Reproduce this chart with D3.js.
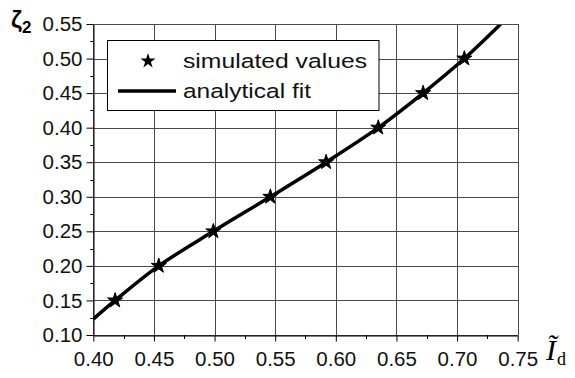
<!DOCTYPE html>
<html>
<head>
<meta charset="utf-8">
<script src="https://cdn.jsdelivr.net/npm/d3@7"></script>
<style>
  html, body { margin: 0; padding: 0; background: #fff; }
  svg { display: block; }
</style>
</head>
<body>
<svg id="chart" width="575" height="378"></svg>
<script>
// Simulated points (normalised current vs. zeta_2)
const simX = [0.418, 0.454, 0.499, 0.546, 0.592, 0.635, 0.672, 0.706];
const simY = [0.15, 0.20, 0.25, 0.30, 0.35, 0.40, 0.45, 0.50];

// Analytical fit curve
const fitX = [0.400, 0.418, 0.454, 0.499, 0.546, 0.592, 0.635, 0.672, 0.706, 0.736];
const fitY = [0.123, 0.150, 0.200, 0.250, 0.300, 0.350, 0.400, 0.450, 0.500, 0.550];

// Tick labels
const xTicks = [0.40, 0.45, 0.50, 0.55, 0.60, 0.65, 0.70, 0.75];
const yTicks = [0.10, 0.15, 0.20, 0.25, 0.30, 0.35, 0.40, 0.45, 0.50, 0.55];
const xMinor = [0.425, 0.475, 0.525, 0.575, 0.625, 0.675, 0.725];
const yMinor = [0.125, 0.175, 0.225, 0.275, 0.325, 0.375, 0.425, 0.475, 0.525];

const legendLabels = ["simulated values", "analytical fit"];

const svg = d3.select("#chart");
const pLeft = 93.3, pRight = 517.7, pTop = 24, pBottom = 335;

const x = d3.scaleLinear().domain([0.40, 0.75]).range([pLeft, pRight]);
const y = d3.scaleLinear().domain([0.10, 0.55]).range([pBottom, pTop]);

const font = "'Liberation Sans', Arial, sans-serif";
const px = v => Math.round(v) + 0.5;

// grid
const grid = svg.append("g").attr("stroke", "#4a4a4a").attr("stroke-width", 1).attr("shape-rendering", "crispEdges");
grid.selectAll("line.v").data(xTicks).join("line").attr("class", "v")
  .attr("x1", d => px(x(d))).attr("x2", d => px(x(d)))
  .attr("y1", pTop).attr("y2", pBottom);
grid.selectAll("line.h").data(yTicks).join("line").attr("class", "h")
  .attr("y1", d => px(y(d))).attr("y2", d => px(y(d)))
  .attr("x1", pLeft).attr("x2", pRight);

// axes
const fmt = d3.format(".2f");
const xAxis = svg.append("g")
  .attr("transform", `translate(0,${px(pBottom)})`)
  .call(d3.axisBottom(x).tickValues(xTicks).tickFormat(fmt).tickSize(6).tickPadding(5).tickSizeOuter(0));
const yAxis = svg.append("g")
  .attr("transform", `translate(${px(pLeft)},0)`)
  .call(d3.axisLeft(y).tickValues(yTicks).tickFormat(fmt).tickSize(7).tickPadding(4).tickSizeOuter(0));

[xAxis, yAxis].forEach(g => {
  g.select(".domain").attr("stroke", "#000").attr("stroke-width", 1);
  g.selectAll(".tick line").attr("stroke", "#000");
  g.selectAll(".tick text").attr("fill", "#111").style("font-family", font).style("font-size", "20.5px");
});
xAxis.selectAll(".tick text").attr("dy", "0.95em");

// minor ticks
svg.append("g").selectAll("line").data(xMinor).join("line")
  .attr("x1", d => px(x(d))).attr("x2", d => px(x(d)))
  .attr("y1", pBottom).attr("y2", pBottom + 4).attr("stroke", "#000");
svg.append("g").selectAll("line").data(yMinor).join("line")
  .attr("y1", d => px(y(d))).attr("y2", d => px(y(d)))
  .attr("x1", pLeft - 3).attr("x2", pLeft).attr("stroke", "#000");

// fit curve, clipped to the plot frame
svg.append("clipPath").attr("id", "plotclip").append("rect")
  .attr("x", pLeft).attr("y", pTop).attr("width", pRight - pLeft).attr("height", pBottom - pTop);

const line = d3.line().x(d => x(d[0])).y(d => y(d[1])).curve(d3.curveCatmullRom.alpha(0.5));
svg.append("path")
  .datum(fitX.map((v, i) => [v, fitY[i]]))
  .attr("clip-path", "url(#plotclip)")
  .attr("d", line)
  .attr("fill", "none").attr("stroke", "#000").attr("stroke-width", 3.5);

// simulated points
const star = d3.symbol().type(d3.symbolStar).size(70);
svg.append("g").selectAll("path").data(simX.map((v, i) => [v, simY[i]])).join("path")
  .attr("d", star)
  .attr("transform", d => `translate(${x(d[0])},${y(d[1])})`)
  .attr("fill", "#000").attr("stroke", "#000").attr("stroke-width", 1).attr("stroke-linejoin", "miter");

// legend
const lg = svg.append("g");
lg.append("rect").attr("x", 107.5).attr("y", 40.5).attr("width", 271.5).attr("height", 70)
  .attr("fill", "#fff").attr("stroke", "#000").attr("stroke-width", 1);
lg.append("path").attr("d", star).attr("transform", "translate(148,61)").attr("fill", "#000");
lg.append("line").attr("x1", 118).attr("x2", 176).attr("y1", 91).attr("y2", 91)
  .attr("stroke", "#000").attr("stroke-width", 3.5);
const legendLen = [184, 128];
lg.selectAll("text").data(legendLabels).join("text")
  .attr("x", 183).attr("y", (d, i) => i === 0 ? 67.5 : 98)
  .attr("textLength", (d, i) => legendLen[i]).attr("lengthAdjust", "spacingAndGlyphs")
  .style("font-family", font).style("font-size", "20.5px").attr("fill", "#111")
  .text(d => d);

// top/right frame
svg.append("path")
  .attr("d", `M${px(pLeft)},${px(pTop)}H${px(pRight)}V${px(pBottom)}`)
  .attr("fill", "none").attr("stroke", "#4a4a4a").attr("stroke-width", 1);

// axis titles
const yt = svg.append("text").attr("x", 11).attr("y", 28)
  .style("font-family", font).style("font-weight", "bold").attr("fill", "#000");
yt.append("tspan").style("font-size", "24px").text("ζ");
yt.append("tspan").style("font-size", "17px").attr("dy", 5).text("2");

const xt = svg.append("text").attr("x", 546).attr("y", 360)
  .style("font-family", "'Liberation Serif', 'Times New Roman', serif").attr("fill", "#000");
xt.append("tspan").style("font-size", "30px").style("font-style", "italic").text("Ĩ");
xt.append("tspan").style("font-size", "18px").attr("dy", 5).attr("dx", 1).text("d");
</script>
</body>
</html>
